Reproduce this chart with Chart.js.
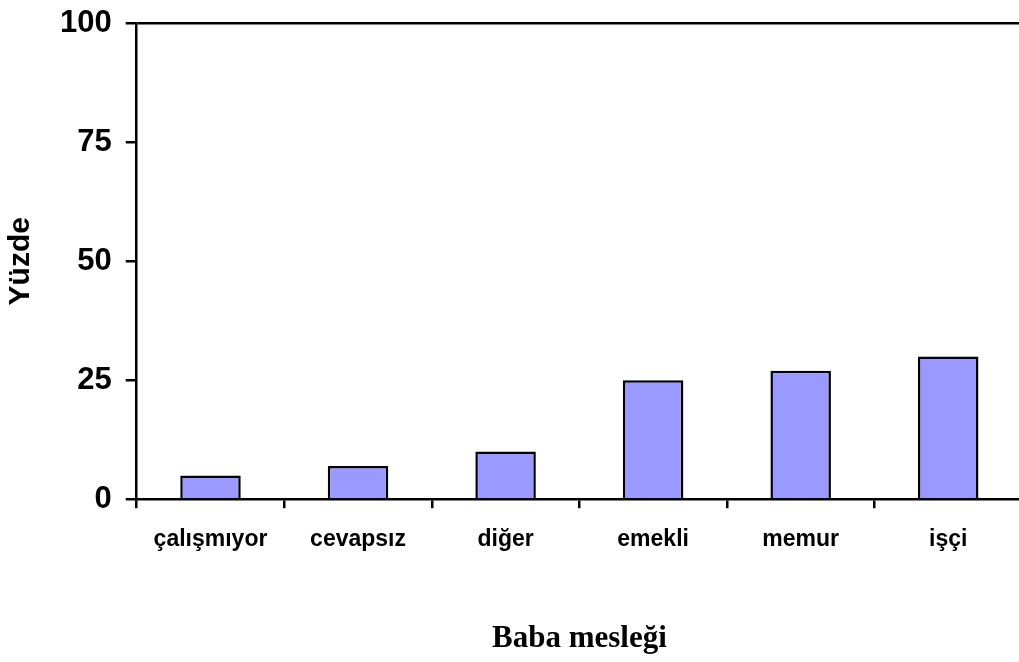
<!DOCTYPE html>
<html>
<head>
<meta charset="utf-8">
<script src="https://cdn.jsdelivr.net/npm/chart.js@4.4.0/dist/chart.umd.min.js"></script>
<style>
    html, body { margin: 0; padding: 0; background: #fff; overflow: hidden; }
    #wrap { width: 1022px; height: 662px; }
</style>
</head>
<body>
<div id="wrap"><canvas id="chartMeslek"></canvas></div>
<script>
// ===========================================
// Baba mesleği - Yüzde (Bar)
// ===========================================
const meslekler = ['çalışmıyor', 'cevapsız', 'diğer', 'emekli', 'memur', 'işçi'];
const yuzdeler = [5, 7, 10, 25, 27, 30];
const yTicks = [0, 25, 50, 75, 100];

let chartMeslek = null;

function renderChartMeslek() {
    const ctx = document.getElementById('chartMeslek');
    if (!ctx) return;

    const sansBold = (size, lineHeight) => ({ family: '"Liberation Sans", Arial, sans-serif', size, weight: 'bold', lineHeight: lineHeight || 1.2 });

    if (chartMeslek) chartMeslek.destroy();
    chartMeslek = new Chart(ctx.getContext('2d'), {
        type: 'bar',
        data: {
            labels: meslekler,
            datasets: [{
                label: 'Yüzde',
                data: yuzdeler,
                backgroundColor: '#9999ff',
                borderColor: '#000',
                borderWidth: 2.5,
                barPercentage: 0.41,
                categoryPercentage: 1
            }]
        },
        options: {
            responsive: true,
            maintainAspectRatio: false,
            animation: false,
            layout: { padding: { top: 22, right: 0, bottom: 0, left: 0 } },
            plugins: {
                legend: { display: false },
                tooltip: { enabled: false }
            },
            scales: {
                x: {
                    offset: true,
                    grid: {
                        offset: true,
                        drawOnChartArea: false,
                        tickLength: 9,
                        tickColor: '#000',
                        lineWidth: 2.5
                    },
                    border: { display: true, color: '#000', width: 2.5 },
                    ticks: { color: '#000', font: sansBold(23), padding: 18, maxRotation: 0 },
                    title: {
                        display: true,
                        text: 'Baba mesleği',
                        color: '#000',
                        font: { family: '"Liberation Serif", "Times New Roman", serif', size: 31, weight: 'bold' },
                        padding: { top: 49, bottom: 4 }
                    }
                },
                y: {
                    min: 0,
                    max: 100,
                    afterBuildTicks: axis => { axis.ticks = yTicks.map(v => ({ value: v })); },
                    grid: {
                        color: c => (c.tick && c.tick.value === 100) ? '#000' : 'transparent',
                        tickColor: '#000',
                        tickLength: 11,
                        lineWidth: 2.5
                    },
                    border: { display: true, color: '#000', width: 2.5 },
                    ticks: { color: '#000', font: sansBold(31, 0.6), padding: 14 },
                    title: {
                        display: true,
                        text: 'Yüzde',
                        color: '#000',
                        font: sansBold(30),
                        padding: { top: 3, bottom: 7 }
                    }
                }
            }
        }
    });
}

renderChartMeslek();
</script>
</body>
</html>
